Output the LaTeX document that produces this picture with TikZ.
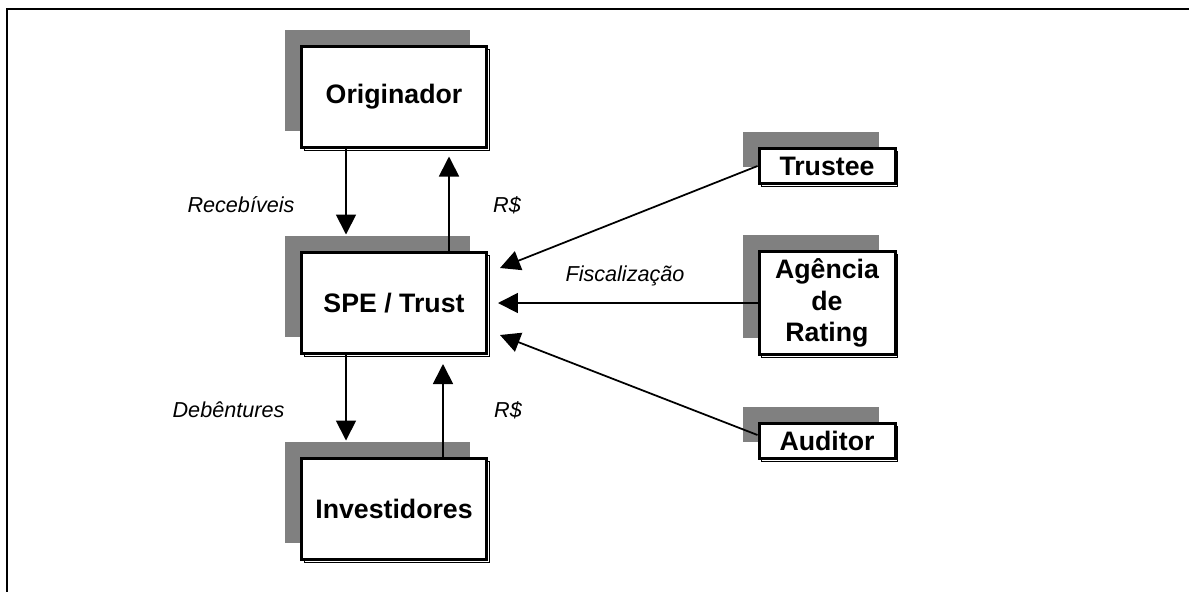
\documentclass[tikz,border=0pt]{standalone}
\usepackage{fontspec}
\setmainfont{Liberation Sans}
\usetikzlibrary{arrows.meta,shadows}

\begin{document}
\begin{tikzpicture}[
    party/.style={rectangle, draw, line width=1.7pt, fill=white, align=center, font=\fontsize{15.2}{18}\selectfont\bfseries,
        general shadow={shadow xshift=-0.33cm, shadow yshift=0.33cm, fill=black!50},
        general shadow={shadow xshift=0.05cm, shadow yshift=-0.05cm, draw=black, line width=0.5pt, fill=white}},
    big/.style={party, minimum width=3.7cm, minimum height=2.02cm},
    small/.style={party, minimum width=2.72cm, inner sep=1pt},
    flow/.style={-{Triangle[length=0.4cm, width=0.4cm]}, line width=1pt},
    tag/.style={font=\fontsize{12.3}{14}\selectfont\itshape}
]
\useasboundingbox (0,0) rectangle (23.78,-11.82);

% Frame
\draw[line width=0.04cm] (0.14,-12) -- (0.14,-0.186) -- (24,-0.186);

% Main chain
\node[big] (orig) at (7.88,-1.94) {Originador};
\node[big] (spe) at (7.88,-6.06) {SPE / Trust};
\node[big] (inv) at (7.88,-10.18) {Investidores};

% Agents on the right
\node[small, minimum height=0.7cm] (trustee) at (16.54,-3.32) {Trustee};
\node[small, minimum height=2.06cm] (rating) at (16.54,-6.06) {Agência\\de\\Rating};
\node[small, minimum height=0.7cm] (auditor) at (16.54,-8.82) {Auditor};

% Arrows
\draw[flow] ([xshift=-0.96cm]orig.south) -- ([xshift=-0.96cm, yshift=0.33cm]spe.north);
\draw[flow, shorten >=0.15cm] ([xshift=1.1cm]spe.north) -- ([xshift=1.1cm]orig.south);
\draw[flow] ([xshift=-0.96cm]spe.south) -- ([xshift=-0.96cm, yshift=0.33cm]inv.north);
\draw[flow, shorten >=0.18cm] ([xshift=0.98cm]inv.north) -- ([xshift=0.98cm]spe.south);

\draw[flow] (trustee.west) -- ([shift={(0.24cm,0.7cm)}]spe.east);
\draw[flow, shorten >=0.2cm] (rating.west) -- (spe.east);
\draw[flow] ([yshift=0.12cm]auditor.west) -- ([shift={(0.24cm,-0.64cm)}]spe.east);

% Labels
\node[tag] (lrec) at (4.82,-4.1) {Recebíveis};
\node[tag] (lrs1) at (10.14,-4.1) {R\$};
\node[tag] (ldeb) at (4.57,-8.2) {Debêntures};
\node[tag] (lrs2) at (10.16,-8.2) {R\$};
\node[tag] (lfis) at (12.5,-5.52) {Fiscalização};

\end{tikzpicture}
\end{document}
